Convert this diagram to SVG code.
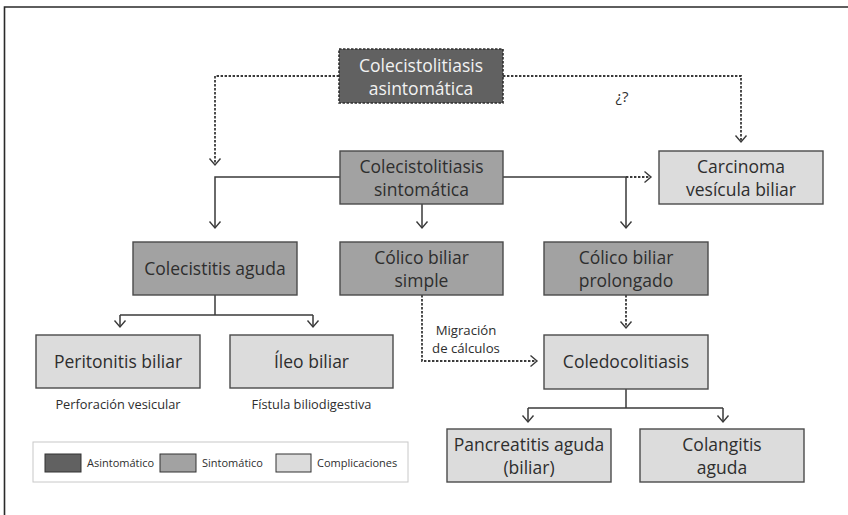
<svg xmlns="http://www.w3.org/2000/svg" width="848" height="515" viewBox="0 0 848 515">
  <style>
    .node rect { stroke: #4a4a4a; stroke-width: 1.4; }
    .asint rect { fill: #616161; stroke: #2e2e2e; stroke-dasharray: 2.5 1.5; stroke-width: 1.6; }
    .sint rect { fill: #a2a2a2; }
    .comp rect { fill: #dcdcdc; }
    text { font-family: "Open Sans", "Noto Sans", "DejaVu Sans", sans-serif; fill: #2e2e2e; }
    .label { font-size: 17.5px; text-anchor: middle; }
    .asint text { fill: #f2f2f2; }
    .note { font-size: 12.8px; text-anchor: middle; }
    .legend text { font-size: 11px; }
    .conn path { fill: none; stroke: #3a3a3a; stroke-width: 1.5; }
    .conn .dot { stroke-dasharray: 2.4 1.6; stroke-width: 1.8; }
  </style>
  <defs>
    <marker id="arrow" viewBox="-8 -7 10 14" markerWidth="10" markerHeight="14" refX="0" refY="0" orient="auto" markerUnits="userSpaceOnUse">
      <path d="M-6.5,-5.5 L0,0 L-6.5,5.5" fill="none" stroke="#3a3a3a" stroke-width="1.4"/>
    </marker>
  </defs>

  <rect width="848" height="515" fill="#ffffff"/>
  <!-- outer frame -->
  <path d="M4.5,515 V7 H848" fill="none" stroke="#2a2a2a" stroke-width="1.6"/>

  <g class="conn">
    <!-- from asymptomatic -->
    <path class="dot" d="M339,76 H215 V165" marker-end="url(#arrow)"/>
    <path class="dot" d="M503,76 H741 V142" marker-end="url(#arrow)"/>
    <!-- from symptomatic -->
    <path d="M340,177 H215 V228" marker-end="url(#arrow)"/>
    <path d="M422,204 V228" marker-end="url(#arrow)"/>
    <path d="M503,177 H626 V228" marker-end="url(#arrow)"/>
    <path class="dot" d="M626,177 H651" marker-end="url(#arrow)"/>
    <!-- from acute cholecystitis -->
    <path d="M215,295 V315"/>
    <path d="M120,315 H313"/>
    <path d="M120,315 V327" marker-end="url(#arrow)"/>
    <path d="M313,315 V327" marker-end="url(#arrow)"/>
    <!-- stone migration -->
    <path class="dot" d="M422,295 V361 H537" marker-end="url(#arrow)"/>
    <path class="dot" d="M626,295 V328" marker-end="url(#arrow)"/>
    <!-- from choledocholithiasis -->
    <path d="M626,389 V408"/>
    <path d="M528,408 H723"/>
    <path d="M528,408 V422" marker-end="url(#arrow)"/>
    <path d="M723,408 V422" marker-end="url(#arrow)"/>
  </g>

  <g id="asintomatica" class="node asint">
    <rect x="339" y="49" width="164" height="54"/>
    <text class="label" x="421" y="71.5">Colecistolitiasis</text>
    <text class="label" x="421" y="94.5">asintomática</text>
  </g>
  <text class="note" x="622" y="102" style="font-size:15px">¿?</text>

  <g id="sintomatica" class="node sint">
    <rect x="340" y="151" width="163" height="53"/>
    <text class="label" x="421.5" y="172.5">Colecistolitiasis</text>
    <text class="label" x="421.5" y="195.5">sintomática</text>
  </g>
  <g id="carcinoma" class="node comp">
    <rect x="659" y="151" width="164" height="53"/>
    <text class="label" x="741" y="172.5">Carcinoma</text>
    <text class="label" x="741" y="195.5">vesícula biliar</text>
  </g>

  <g id="colecistitis" class="node sint">
    <rect x="133" y="242" width="164" height="53"/>
    <text class="label" x="215" y="274.5">Colecistitis aguda</text>
  </g>
  <g id="colico-simple" class="node sint">
    <rect x="340" y="242" width="163" height="53"/>
    <text class="label" x="421.5" y="263.5">Cólico biliar</text>
    <text class="label" x="421.5" y="286.5">simple</text>
  </g>
  <g id="colico-prolongado" class="node sint">
    <rect x="544" y="242" width="164" height="53"/>
    <text class="label" x="626" y="263.5">Cólico biliar</text>
    <text class="label" x="626" y="286.5">prolongado</text>
  </g>

  <g id="peritonitis" class="node comp">
    <rect x="36" y="335" width="164" height="53"/>
    <text class="label" x="118" y="367.5">Peritonitis biliar</text>
  </g>
  <text class="note" x="118" y="409">Perforación vesicular</text>
  <g id="ileo" class="node comp">
    <rect x="230" y="335" width="163" height="53"/>
    <text class="label" x="311.5" y="367.5">Íleo biliar</text>
  </g>
  <text class="note" x="311.5" y="409">Fístula biliodigestiva</text>

  <text class="note" x="466" y="335" style="font-size:13.2px">Migración</text>
  <text class="note" x="466" y="353" style="font-size:13.2px">de cálculos</text>

  <g id="coledocolitiasis" class="node comp">
    <rect x="544" y="335" width="164" height="54"/>
    <text class="label" x="626" y="368">Coledocolitiasis</text>
  </g>

  <g id="pancreatitis" class="node comp">
    <rect x="447" y="429" width="164" height="53"/>
    <text class="label" x="529" y="450.5">Pancreatitis aguda</text>
    <text class="label" x="529" y="473.5">(biliar)</text>
  </g>
  <g id="colangitis" class="node comp">
    <rect x="640" y="429" width="164" height="53"/>
    <text class="label" x="722" y="450.5">Colangitis</text>
    <text class="label" x="722" y="473.5">aguda</text>
  </g>

  <g id="legend" class="legend">
    <rect x="33" y="442" width="375" height="40" fill="#ffffff" stroke="#c8c8c8" stroke-width="1"/>
    <rect x="45" y="454" width="36" height="18" fill="#616161" stroke="#333" stroke-width="1"/>
    <text x="87" y="467">Asintomático</text>
    <rect x="160" y="454" width="36" height="18" fill="#a2a2a2" stroke="#333" stroke-width="1"/>
    <text x="202" y="467">Sintomático</text>
    <rect x="276" y="454" width="35" height="18" fill="#dcdcdc" stroke="#333" stroke-width="1"/>
    <text x="317" y="467">Complicaciones</text>
  </g>
</svg>
